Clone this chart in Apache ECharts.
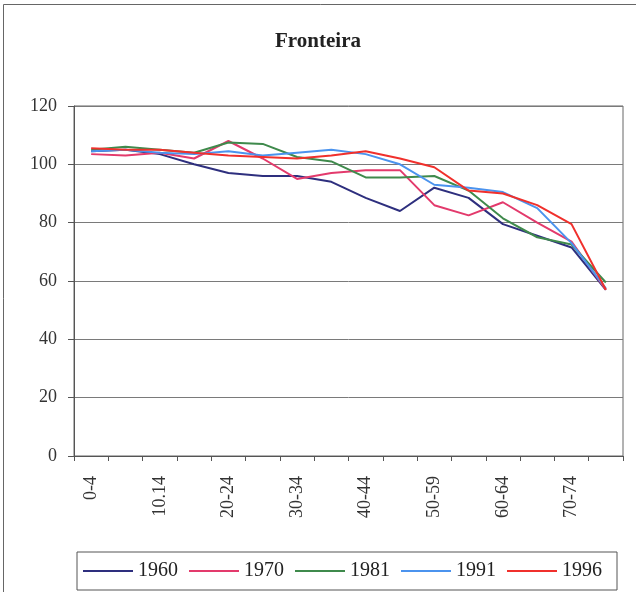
<!DOCTYPE html>
<html>
<head>
<meta charset="utf-8">
<style>
  html, body { margin: 0; padding: 0; background: #fff; }
  #chart { width: 636px; height: 592px; }
</style>
<script src="https://cdn.jsdelivr.net/npm/echarts@6/dist/echarts.min.js"></script>
</head>
<body>
<div id="chart"></div>
<script>
// Age groups (only every other one is labelled on the axis)
const categories = ['0-4', '5-9', '10.14', '15-19', '20-24', '25-29', '30-34', '35-39',
  '40-44', '45-49', '50-59', '55-59', '60-64', '65-69', '70-74', '75+'];

// Index values per census year
const s1960 = [104.5, 105, 103.5, 100, 97, 96, 96, 94, 88.5, 84, 92, 88.5, 79.5, 75.5, 71.5, 57];
const s1970 = [103.5, 103, 104, 102, 108, 102, 95, 97, 98, 98, 86, 82.5, 87, 80, 73.5, 57];
const s1981 = [105, 106, 105, 104, 107.5, 107, 102.5, 101, 95.5, 95.5, 96, 91, 81.5, 75, 72.5, 59.5];
const s1991 = [104.5, 105, 104, 103.5, 104.5, 103, 104, 105, 103.5, 100, 93, 92, 90.5, 85, 73, 57.5];
const s1996 = [105.5, 105, 105, 104, 103, 102.5, 102, 103, 104.5, 102, 99, 91, 90, 86, 79.5, 57];

const yTicks = { min: 0, max: 120, interval: 20 };

const seriesDefs = [
  { name: '1960', data: s1960, color: '#2e2f7e' },
  { name: '1970', data: s1970, color: '#e33a6c' },
  { name: '1981', data: s1981, color: '#3f8a4c' },
  { name: '1991', data: s1991, color: '#4b93ee' },
  { name: '1996', data: s1996, color: '#f0302c' }
];

const serif = '"Liberation Serif", "DejaVu Serif", serif';
const chart = echarts.init(document.getElementById('chart'), null, { renderer: 'canvas' });

chart.setOption({
  animation: false,
  backgroundColor: '#ffffff',
  title: {
    text: 'Fronteira',
    left: 'center',
    top: 26,
    textStyle: { fontFamily: serif, fontSize: 21, fontWeight: 'bold', color: '#222' }
  },
  graphic: [
    {
      type: 'rect',
      shape: { x: 3.5, y: 4.5, width: 660, height: 620 },
      style: { fill: 'none', stroke: '#666', lineWidth: 1 },
      silent: true
    }
  ],
  grid: {
    left: 74, right: 13, top: 106, bottom: 136,
    show: true, borderColor: '#666', borderWidth: 1, backgroundColor: 'transparent'
  },
  legend: {
    left: 77, top: 552,
    padding: [9, 15, 9, 6],
    borderColor: '#555', borderWidth: 1,
    itemWidth: 50, itemHeight: 2, itemGap: 11,
    icon: 'rect',
    textStyle: { fontFamily: serif, fontSize: 20, color: '#222' },
    data: seriesDefs.map(s => s.name)
  },
  xAxis: {
    type: 'category',
    data: categories,
    boundaryGap: true,
    axisLine: { lineStyle: { color: '#555', width: 1 } },
    axisTick: { show: true, interval: 0, length: 5, lineStyle: { color: '#555' } },
    axisLabel: {
      interval: 1, rotate: 90, margin: 20,
      fontFamily: serif, fontSize: 18, color: '#333'
    },
    splitLine: { show: false }
  },
  yAxis: {
    type: 'value',
    min: yTicks.min, max: yTicks.max, interval: yTicks.interval,
    axisLine: { show: true, lineStyle: { color: '#555', width: 1 } },
    axisTick: { show: true, length: 6, lineStyle: { color: '#555' } },
    axisLabel: { margin: 17, fontFamily: serif, fontSize: 18, color: '#333' },
    splitLine: { show: true, lineStyle: { color: '#7a7a7a', width: 1 } }
  },
  series: seriesDefs.map(s => ({
    name: s.name,
    type: 'line',
    data: s.data,
    symbol: 'none',
    smooth: false,
    color: s.color,
    lineStyle: { color: s.color, width: 2 },
    itemStyle: { color: s.color }
  }))
});
</script>
</body>
</html>
